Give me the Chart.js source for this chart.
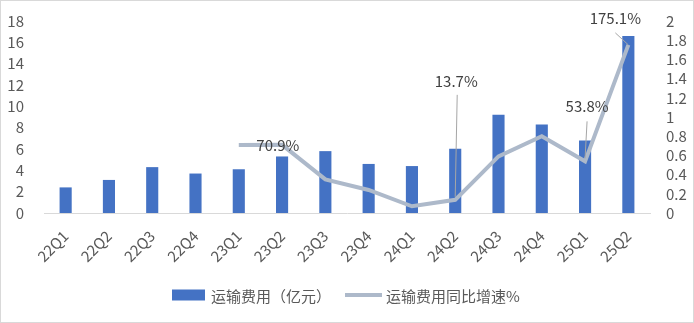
<!DOCTYPE html>
<html>
<head>
<meta charset="utf-8">
<script src="https://cdn.jsdelivr.net/npm/chart.js@4"></script>
<style>
  html, body { margin: 0; padding: 0; background: #fff; }
  #wrap { width: 694px; height: 323px; position: relative; }
</style>
</head>
<body>
<div id="wrap"><canvas id="costChart" width="694" height="323"></canvas></div>
<script>
/* ---------- data ---------- */
const quarters = ['22Q1','22Q2','22Q3','22Q4','23Q1','23Q2','23Q3','23Q4','24Q1','24Q2','24Q3','24Q4','25Q1','25Q2'];
const freightCost = [2.4, 3.1, 4.3, 3.7, 4.1, 5.3, 5.8, 4.6, 4.4, 6.03, 9.2, 8.3, 6.8, 16.6];   // 亿元
const freightYoY = [null, null, null, null, 0.709, 0.71, 0.35, 0.24, 0.07, 0.137, 0.59, 0.80, 0.538, 1.751];
const leftTicks = [0, 2, 4, 6, 8, 10, 12, 14, 16, 18];
const rightTicks = [0, 0.2, 0.4, 0.6, 0.8, 1, 1.2, 1.4, 1.6, 1.8, 2];
const rightTickText = ['0', '0.2', '0.4', '0.6', '0.8', '1', '1.2', '1.4', '1.6', '1.8', '2'];
const shownLabels = { 4: '70.9%', 9: '13.7%', 12: '53.8%', 13: '175.1%' };
const legendNames = ['运输费用（亿元）', '运输费用同比增速%'];

const FONT = '"Microsoft YaHei", "Noto Sans CJK SC", sans-serif';
const TEXT = '#595959';
const BAR = '#4472C4';
const LINE = '#ADB9CA';

/* ---------- plugins ---------- */
// white background + thin frame
const frame = {
  id: 'frame',
  beforeDraw(chart) {
    const ctx = chart.ctx;
    ctx.save();
    ctx.fillStyle = '#fff';
    ctx.fillRect(0, 0, chart.width, chart.height);
    ctx.strokeStyle = '#D9D9D9';
    ctx.lineWidth = 1;
    ctx.strokeRect(0.5, 0.5, chart.width - 1, chart.height - 1);
    ctx.restore();
  }
};

// percentage labels with leader lines (offsets relative to each point)
const yoyLabels = {
  id: 'yoyLabels',
  afterDatasetsDraw(chart) {
    const ctx = chart.ctx;
    const meta = chart.getDatasetMeta(1);
    const place = {
      4:  { dx: 39, dy: 0, lead: null },
      9:  { dx: 1, dy: -119, lead: [2, -105, 0, -3] },
      12: { dx: 2, dy: -55, lead: [2, -40, 0, -3] },
      13: { dx: -13, dy: -27, lead: [-13, -12, 0, 0] }
    };
    ctx.save();
    ctx.font = '15px ' + FONT;
    ctx.textAlign = 'center';
    ctx.textBaseline = 'middle';
    Object.keys(shownLabels).forEach(k => {
      const pt = meta.data[k];
      if (!pt) return;
      const p = place[k];
      if (p.lead) {
        ctx.strokeStyle = '#A6A6A6';
        ctx.lineWidth = 1;
        ctx.beginPath();
        ctx.moveTo(pt.x + p.lead[0], pt.y + p.lead[1]);
        ctx.lineTo(pt.x + p.lead[2], pt.y + p.lead[3]);
        ctx.stroke();
      }
      ctx.fillStyle = '#404040';
      ctx.fillText(shownLabels[k], pt.x + p.dx, pt.y + p.dy);
    });
    ctx.restore();
  }
};

// legend at the bottom
const bottomLegend = {
  id: 'bottomLegend',
  afterDraw(chart) {
    const ctx = chart.ctx;
    ctx.save();
    ctx.font = '15px ' + FONT;
    ctx.textBaseline = 'middle';
    const y = 295;
    const w0 = ctx.measureText(legendNames[0]).width;
    const w1 = ctx.measureText(legendNames[1]).width;
    const total = 33 + 6 + w0 + 14 + 37 + 4 + w1;
    let x = Math.round(346 - total / 2);
    ctx.fillStyle = BAR;
    ctx.fillRect(x, y - 5.5, 33, 11);
    x += 39;
    ctx.fillStyle = TEXT;
    ctx.fillText(legendNames[0], x, y + 1);
    x += w0 + 14;
    ctx.strokeStyle = LINE;
    ctx.lineWidth = 4;
    ctx.beginPath();
    ctx.moveTo(x, y);
    ctx.lineTo(x + 37, y);
    ctx.stroke();
    x += 41;
    ctx.fillStyle = TEXT;
    ctx.fillText(legendNames[1], x, y + 1);
    ctx.restore();
  }
};

/* ---------- chart ---------- */
function initChart() {
  const ctx = document.getElementById('costChart').getContext('2d');

  new Chart(ctx, {
    type: 'bar',
    data: {
      labels: quarters,
      datasets: [
        {
          label: legendNames[0],
          data: freightCost,
          backgroundColor: BAR,
          barPercentage: 0.28,
          categoryPercentage: 1,
          yAxisID: 'y',
          order: 2
        },
        {
          type: 'line',
          label: legendNames[1],
          data: freightYoY,
          borderColor: LINE,
          borderWidth: 4,
          pointRadius: 0,
          tension: 0,
          spanGaps: false,
          yAxisID: 'y1',
          order: 1
        }
      ]
    },
    options: {
      responsive: false,
      animation: false,
      layout: { padding: { top: 19, left: 0, right: 0, bottom: 0 } },
      plugins: {
        legend: { display: false },
        tooltip: { enabled: false }
      },
      scales: {
        x: {
          grid: { display: false },
          border: { display: true, color: '#D9D9D9', width: 1 },
          ticks: {
            color: TEXT,
            font: { family: FONT, size: 15 },
            minRotation: 45,
            maxRotation: 45,
            autoSkip: false,
            padding: 6
          },
          afterFit(scale) { scale.height = 110; }
        },
        y: {
          position: 'left',
          min: 0,
          max: 18,
          afterBuildTicks(scale) { scale.ticks = leftTicks.map(v => ({ value: v })); },
          grid: { display: false },
          border: { display: false },
          ticks: {
            color: TEXT,
            font: { family: FONT, size: 15 },
            autoSkip: false,
            padding: 12,
            callback: (v) => String(v)
          },
          afterFit(scale) { scale.width = 44; }
        },
        y1: {
          position: 'right',
          min: 0,
          max: 2,
          afterBuildTicks(scale) { scale.ticks = rightTicks.map(v => ({ value: v })); },
          grid: { display: false },
          border: { display: false },
          ticks: {
            color: TEXT,
            font: { family: FONT, size: 15 },
            autoSkip: false,
            padding: 8,
            callback: (v, i) => rightTickText[i]
          },
          afterFit(scale) { scale.width = 44; }
        }
      }
    },
    plugins: [frame, yoyLabels, bottomLegend]
  });
}

window.onload = initChart;
</script>
</body>
</html>
